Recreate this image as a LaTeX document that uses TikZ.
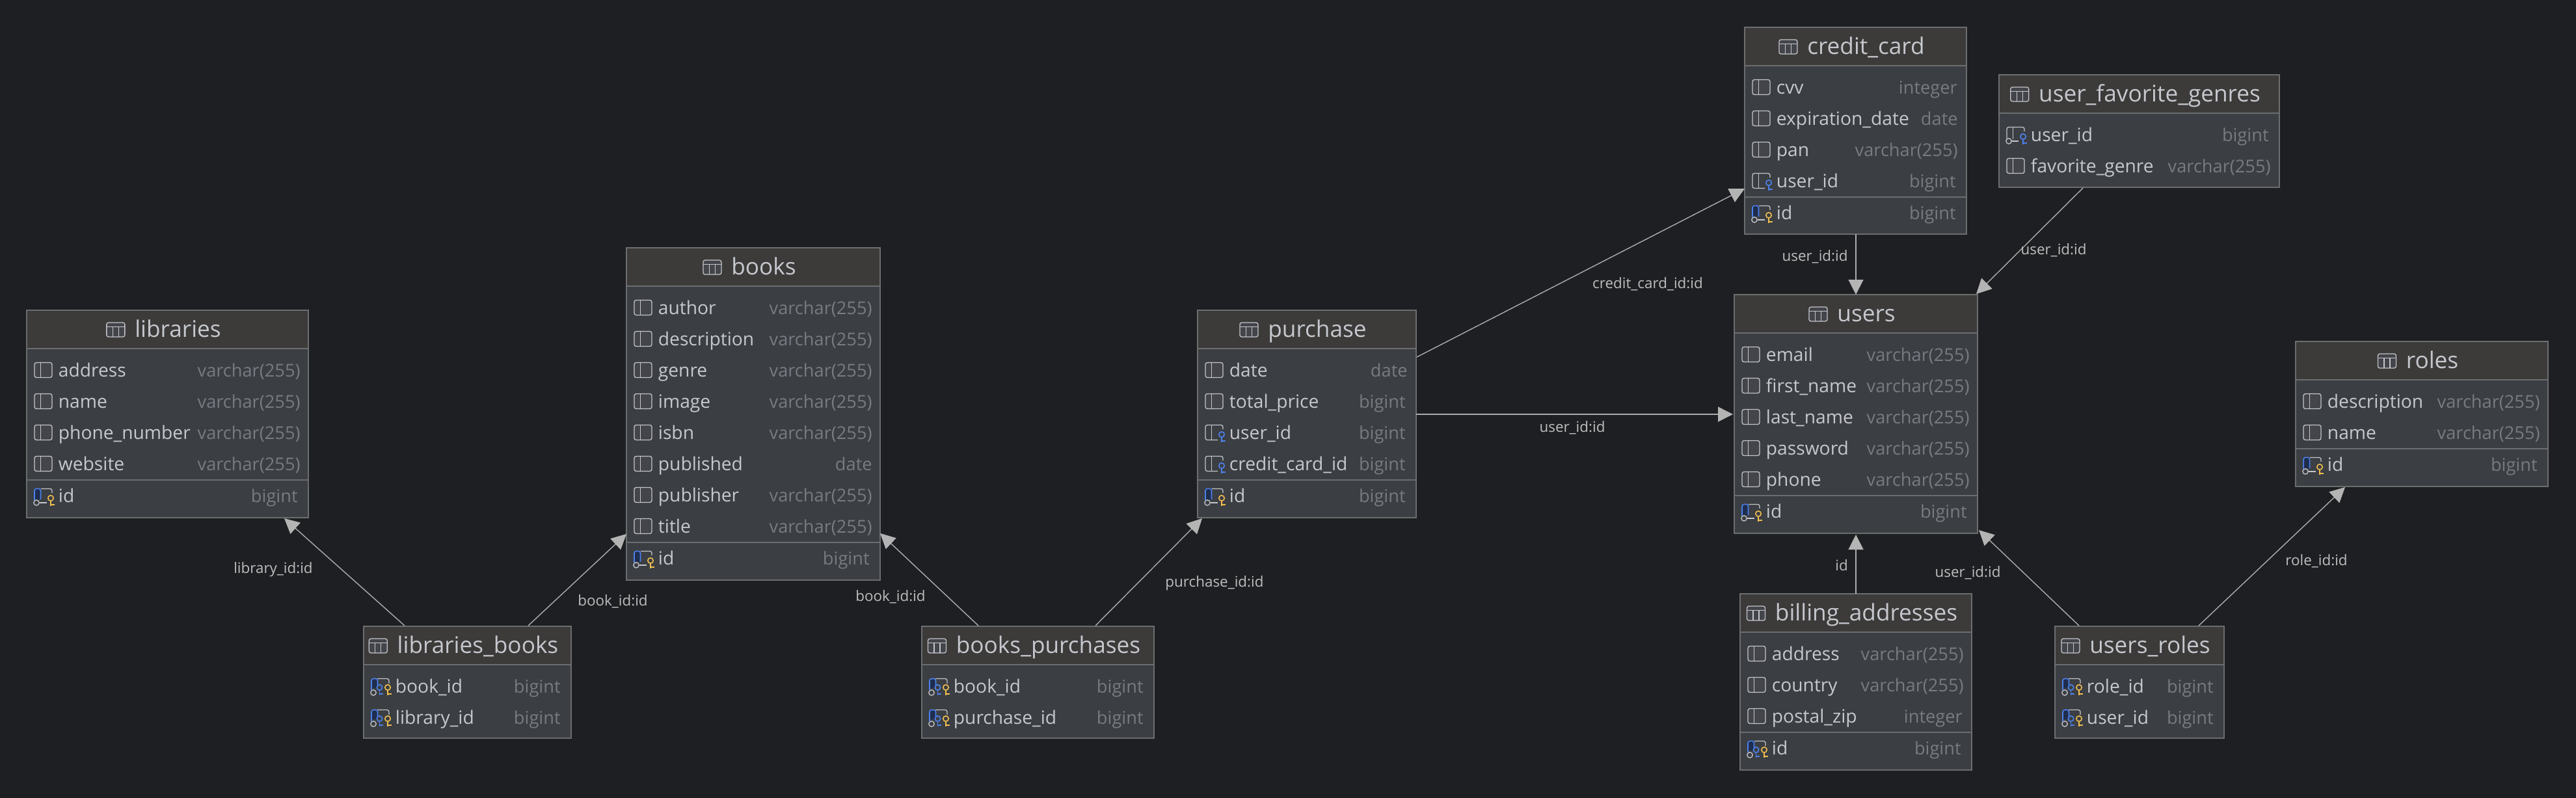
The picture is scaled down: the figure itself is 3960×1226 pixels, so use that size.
\documentclass[tikz,border=0pt]{standalone}
\usepackage{fontspec}
\setmainfont{Open Sans}
\usetikzlibrary{arrows.meta}
\definecolor{bgc}{HTML}{1E1F22}
\definecolor{headc}{HTML}{3C3B3A}
\definecolor{bodyc}{HTML}{3B3E42}
\definecolor{edgec}{HTML}{6B6D6F}
\definecolor{txtc}{HTML}{C6C8CE}
\definecolor{typec}{HTML}{777B82}
\definecolor{linkc}{HTML}{ADADAD}
\definecolor{labc}{HTML}{B4B4B4}
\definecolor{lablc}{HTML}{BEBEBE}
\definecolor{iconc}{HTML}{C4C6CB}
\definecolor{iconf}{HTML}{43454A}
\definecolor{bluec}{HTML}{4D82EE}
\definecolor{bluef}{HTML}{1F2D4E}
\definecolor{yelc}{HTML}{F0BE50}
\tikzset{
  tablebox/.style={draw=edgec,fill=bodyc,line width=0.9pt,inner sep=0pt,outer sep=0pt,anchor=north west},
  titletext/.style={text=txtc,font=\fontsize{17.6}{20}\selectfont,inner sep=0pt,anchor=base},
  coltext/.style={text=txtc,font=\fontsize{14.1}{16}\selectfont,inner sep=0pt,anchor=base west},
  typetext/.style={text=typec,font=\fontsize{13.6}{16}\selectfont,inner sep=0pt,anchor=base east},
  linktext/.style={text=lablc,font=\fontsize{11.2}{14}\selectfont,inner sep=0pt,anchor=base},
  fk/.style={draw=linkc,line width=0.7pt,-{Triangle[length=11.5pt,width=11.5pt,fill=labc,color=labc]},shorten >=0pt},
  ic/.style={draw=iconc,line width=0.65pt},
  tabicon/.pic={
    \draw[ic,fill=iconf,rounded corners=1.5pt] (0,-11) rectangle (28,11);
    \draw[ic] (0,-4.5) -- (28,-4.5) (9.5,-4.5) -- (9.5,11) (18.5,-4.5) -- (18.5,11);
  },
  colicon/.pic={
    \draw[ic,fill=iconf,rounded corners=1.5pt] (0,-11.5) rectangle (27,11.5);
    \draw[ic] (9.5,-11.5) -- (9.5,11.5);
  },
  keyshape/.pic={
    \draw[line width=0.8pt,fill=bodyc] (0,0) circle (4.2);
    \draw[line width=0.8pt] (0,4.2) -- (0,12) (0,10) -- (5.5,10);
  },
  fkicon/.pic={
    \draw[ic,rounded corners=1.5pt] (19,11.5) -- (0,11.5) -- (0,-11.5) -- (27,-11.5) -- (27,-5);
    \draw[ic] (9.5,-11.5) -- (9.5,11.5);
    \pic[bluec] at (25,3) {keyshape};
  },
  fkcicon/.pic={
    \draw[ic,rounded corners=1.5pt] (0,7) -- (0,-11.5) -- (27,-11.5) -- (27,-5);
    \draw[ic] (9.5,-11.5) -- (9.5,7) (7,10) -- (18,10);
    \draw[ic,fill=bodyc] (3,10) circle (4.2);
    \pic[bluec] at (25,3) {keyshape};
  },
  pkicon/.pic={
    \draw[ic,rounded corners=1.5pt] (9,-11.5) -- (27,-11.5) -- (27,-5);
    \draw[ic] (8,10) -- (19,10);
    \fill[bluef] (0,-11.5) rectangle (9.5,5);
    \draw[bluec,line width=0.8pt,rounded corners=1.5pt] (0,6) -- (0,-11.5) -- (9.5,-11.5) -- (9.5,5);
    \draw[ic,fill=bodyc] (3,10) circle (4.2);
    \pic[yelc] at (25,3) {keyshape};
  },
  pkficon/.pic={
    \draw[ic,rounded corners=1.5pt] (9,-11.5) -- (27,-11.5) -- (27,-4);
    \fill[bluef] (0,-11.5) rectangle (9.5,3);
    \draw[bluec,line width=0.8pt,rounded corners=1.5pt] (0,6) -- (0,-11.5) -- (9.5,-11.5) -- (9.5,-2);
    \draw[ic,fill=bodyc] (3,10) circle (4.2);
    \pic[bluec] at (12.5,2) {keyshape};
    \pic[yelc] at (25,2) {keyshape};
  },
}
% id, L, T, R, B, title
\newcommand{\dbtbl}[6]{%
  \def\curL{#2}\def\curT{#3}\def\curR{#4}%
  \node[tablebox,minimum width={(#4-#2)*0.5pt},minimum height={(#5-#3)*0.5pt}] (#1) at (#2,#3) {};
  \fill[headc] (#2,#3) rectangle (#4,#3+59);
  \draw[edgec,line width=0.9pt] (#2,#3+59) -- (#4,#3+59);
  \draw[edgec,line width=0.9pt] (#1.north west) rectangle (#1.south east);
  \node[titletext] (#1title) at ({(#2+#4)/2+16},#3+41) {#6};
  \pic at ([shift={(-43,-11)}]#1title.base west) {tabicon};
}
% id, row index, icon, name, type, right offset
\newcommand{\dbrow}[6]{%
  \pic at (\curL+12,{\curT+92+48*#2}) {#3};
  \node[coltext] (#1) at (\curL+48.5,{\curT+102+48*#2}) {#4};
  \node[typetext] (#1type) at (\curR-#6,{\curT+102+48*#2}) {#5};
}
% number of rows above
\newcommand{\dbsep}[1]{%
  \draw[edgec,line width=0.9pt] (\curL,{\curT+117+48*(#1-1)}) -- (\curR,{\curT+117+48*(#1-1)});
}
\newcommand{\vch}{varchar(255)}
\begin{document}
\begin{tikzpicture}[x=0.5pt,y=-0.5pt]
\useasboundingbox (0,0) rectangle (3960,1226);
\fill[bgc] (-10,-10) rectangle (3970,1236);

\dbtbl{libraries}{41}{477}{474}{796}{libraries}
\dbrow{la}{0}{colicon}{address}{\vch}{12}
\dbrow{lb}{1}{colicon}{name}{\vch}{12}
\dbrow{lc}{2}{colicon}{phone\_number}{\vch}{12}
\dbrow{ld}{3}{colicon}{website}{\vch}{12}
\dbsep{4}
\dbrow{le}{4.04}{pkicon}{id}{bigint}{16}

\dbtbl{books}{963}{381}{1353}{892}{books}
\dbrow{ba}{0}{colicon}{author}{\vch}{12}
\dbrow{bb}{1}{colicon}{description}{\vch}{12}
\dbrow{bc}{2}{colicon}{genre}{\vch}{12}
\dbrow{bd}{3}{colicon}{image}{\vch}{12}
\dbrow{be}{4}{colicon}{isbn}{\vch}{12}
\dbrow{bf}{5}{colicon}{published}{date}{12}
\dbrow{bg}{6}{colicon}{publisher}{\vch}{12}
\dbrow{bh}{7}{colicon}{title}{\vch}{12}
\dbsep{8}
\dbrow{bi}{8.04}{pkicon}{id}{bigint}{16}

\dbtbl{purchase}{1841}{477}{2177}{796}{purchase}
\dbrow{pa}{0}{colicon}{date}{date}{13}
\dbrow{pb}{1}{colicon}{total\_price}{bigint}{16}
\dbrow{pc}{2}{fkicon}{user\_id}{bigint}{16}
\dbrow{pd}{3}{fkicon}{credit\_card\_id}{bigint}{16}
\dbsep{4}
\dbrow{pe}{4.04}{pkicon}{id}{bigint}{16}

\dbtbl{creditcard}{2682}{42}{3023}{360}{credit\_card}
\dbrow{ca}{0}{colicon}{cvv}{integer}{14}
\dbrow{cb}{1}{colicon}{expiration\_date}{date}{13}
\dbrow{cc}{2}{colicon}{pan}{\vch}{13}
\dbrow{cd}{3}{fkicon}{user\_id}{bigint}{16}
\dbsep{4}
\dbrow{ce}{4.04}{pkicon}{id}{bigint}{16}

\dbtbl{favgenres}{3073}{115}{3504}{288}{user\_favorite\_genres}
\dbrow{fa}{0}{fkcicon}{user\_id}{bigint}{16}
\dbrow{fb}{1}{colicon}{favorite\_genre}{\vch}{13}

\dbtbl{users}{2666}{453}{3040}{820}{users}
\dbrow{ua}{0}{colicon}{email}{\vch}{12}
\dbrow{ub}{1}{colicon}{first\_name}{\vch}{12}
\dbrow{uc}{2}{colicon}{last\_name}{\vch}{12}
\dbrow{ud}{3}{colicon}{password}{\vch}{12}
\dbrow{ue}{4}{colicon}{phone}{\vch}{12}
\dbsep{5}
\dbrow{uf}{5.04}{pkicon}{id}{bigint}{16}

\dbtbl{roles}{3529}{525}{3917}{748}{roles}
\dbrow{ra}{0}{colicon}{description}{\vch}{12}
\dbrow{rb}{1}{colicon}{name}{\vch}{12}
\dbsep{2}
\dbrow{rc}{2.04}{pkicon}{id}{bigint}{16}

\dbtbl{billing}{2675}{913}{3031}{1184}{billing\_addresses}
\dbrow{ia}{0}{colicon}{address}{\vch}{12}
\dbrow{ib}{1}{colicon}{country}{\vch}{12}
\dbrow{ic}{2}{colicon}{postal\_zip}{integer}{14}
\dbsep{3}
\dbrow{id}{3.04}{pkficon}{id}{bigint}{16}

\dbtbl{usersroles}{3159}{963}{3419}{1135}{users\_roles}
\dbrow{sa}{0}{pkficon}{role\_id}{bigint}{16}
\dbrow{sb}{1}{pkficon}{user\_id}{bigint}{16}

\dbtbl{librariesbooks}{559}{963}{878}{1135}{libraries\_books}
\dbrow{ta}{0}{pkficon}{book\_id}{bigint}{16}
\dbrow{tb}{1}{pkficon}{library\_id}{bigint}{16}

\dbtbl{bookspurchases}{1417}{963}{1774}{1135}{books\_purchases}
\dbrow{wa}{0}{pkficon}{book\_id}{bigint}{16}
\dbrow{wb}{1}{pkficon}{purchase\_id}{bigint}{16}

% connectors
\draw[fk] ([shift={(63,-1)}]librariesbooks.north west) -- ([shift={(-37,1)}]libraries.south east);
\draw[fk] ([shift={(253,-1)}]librariesbooks.north west) -- ([shift={(0,-71)}]books.south west);
\draw[fk] ([shift={(87,-1)}]bookspurchases.north west) -- ([shift={(0,-72)}]books.south east);
\draw[fk] ([shift={(267,-1)}]bookspurchases.north west) -- ([shift={(7,1)}]purchase.south west);
\draw[fk] ([shift={(1,72)}]purchase.north east) -- ([shift={(0,248)}]creditcard.north west);
\draw[fk] ([shift={(0,160)}]purchase.north east) -- ([shift={(-2,184)}]users.north west);
\draw[fk] (creditcard.south west -| users.north) -- (users.north);
\draw[fk] ([shift={(129,1)}]favgenres.south west) -- ([shift={(-2,-1)}]users.north east);
\draw[fk] (billing.north) -- ([shift={(0,2)}]users.south);
\draw[fk] ([shift={(37,-1)}]usersroles.north west) -- ([shift={(2,-5)}]users.south east);
\draw[fk] ([shift={(221,-1)}]usersroles.north west) -- ([shift={(76,1)}]roles.south west);

% connector labels
\node[linktext] (l1) at (420,881) {library\_id:id};
\node[linktext] (l2) at (942,931) {book\_id:id};
\node[linktext] (l3) at (1369,924) {book\_id:id};
\node[linktext] (l4) at (1867,902) {purchase\_id:id};
\node[linktext] (l5) at (2533,443) {credit\_card\_id:id};
\node[linktext] (l6) at (2417,664) {user\_id:id};
\node[linktext] (l7) at (2790,401) {user\_id:id};
\node[linktext] (l8) at (3157,391) {user\_id:id};
\node[linktext] (l9) at (2831,877) {id};
\node[linktext] (l10) at (3025,887) {user\_id:id};
\node[linktext] (l11) at (3561,869) {role\_id:id};
\end{tikzpicture}
\end{document}
